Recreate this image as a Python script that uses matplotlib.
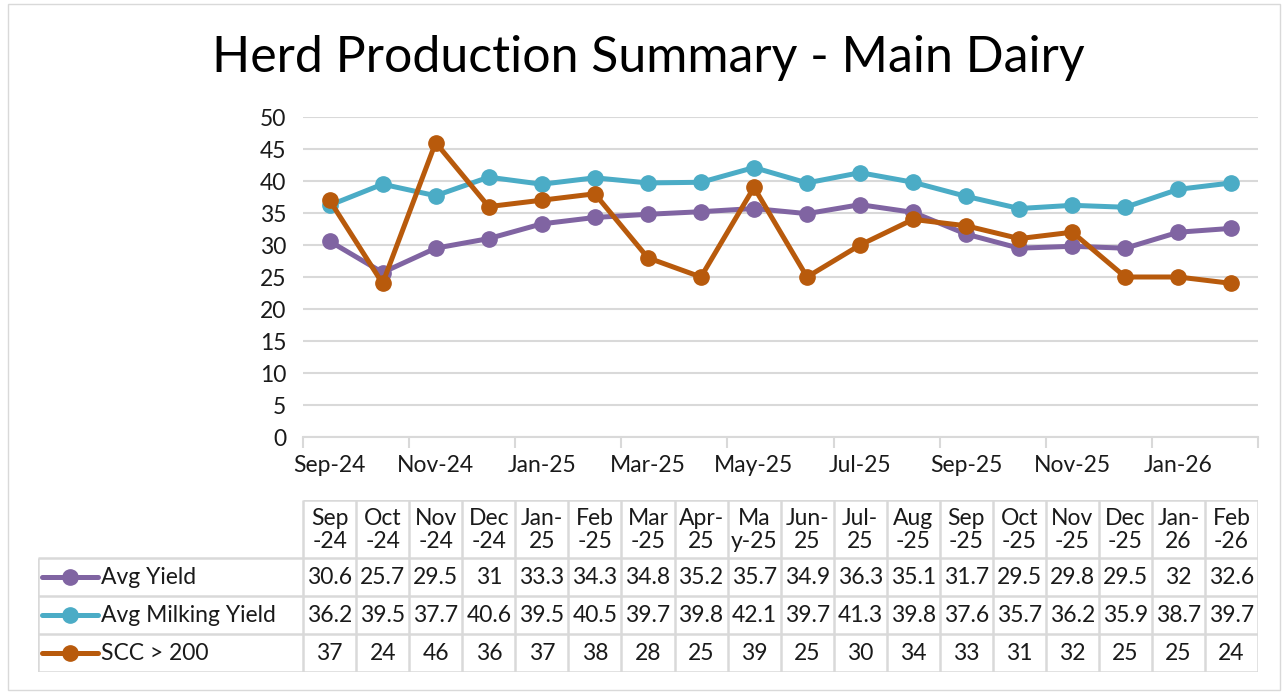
import matplotlib.pyplot as plt
from matplotlib.patches import Rectangle

plt.rcParams['font.family'] = ['Lato', 'DejaVu Sans']

months = ["Sep-24", "Oct-24", "Nov-24", "Dec-24", "Jan-25", "Feb-25", "Mar-25", "Apr-25", "May-25",
          "Jun-25", "Jul-25", "Aug-25", "Sep-25", "Oct-25", "Nov-25", "Dec-25", "Jan-26", "Feb-26"]
header = ["Sep\n-24", "Oct\n-24", "Nov\n-24", "Dec\n-24", "Jan-\n25", "Feb\n-25", "Mar\n-25", "Apr-\n25", "Ma\ny-25",
          "Jun-\n25", "Jul-\n25", "Aug\n-25", "Sep\n-25", "Oct\n-25", "Nov\n-25", "Dec\n-25", "Jan-\n26", "Feb\n-26"]
avg_yield = [30.6, 25.7, 29.5, 31, 33.3, 34.3, 34.8, 35.2, 35.7, 34.9, 36.3, 35.1, 31.7, 29.5, 29.8, 29.5, 32, 32.6]
avg_milking = [36.2, 39.5, 37.7, 40.6, 39.5, 40.5, 39.7, 39.8, 42.1, 39.7, 41.3, 39.8, 37.6, 35.7, 36.2, 35.9, 38.7, 39.7]
scc = [37, 24, 46, 36, 37, 38, 28, 25, 39, 25, 30, 34, 33, 31, 32, 25, 25, 24]

series = [("Avg Yield", avg_yield, "#8064A2"),
          ("Avg Milking Yield", avg_milking, "#4BACC6"),
          ("SCC > 200", scc, "#B85A0C")]

W, H = 1286, 698
fs = 16.5
txt_c = "#1a1a1a"
fig = plt.figure(figsize=(W / 100, H / 100), dpi=100)
fig.patches.append(Rectangle((8 / W, 8 / H), 1272 / W, 686 / H, transform=fig.transFigure,
                             fill=False, edgecolor="#D9D9D9", lw=1))

fig.text(648 / W, 1 - 58 / H, "Herd Production Summary - Main Dairy", ha="center", va="center",
         fontsize=36, color="black")

n = len(months)
x = [i + 0.5 for i in range(n)]
grid_c = "#D9D9D9"

ax = fig.add_axes([303 / W, 1 - 437 / H, 955 / W, 320 / H])
for name, vals, c in series:
    ax.plot(x, vals, color=c, lw=3.6, marker="o", ms=11, zorder=3)
ax.set_xlim(0, n)
ax.set_ylim(0, 50)
ax.set_yticks(range(0, 51, 5))
ax.yaxis.grid(True, color=grid_c, lw=1.5)
ax.set_axisbelow(True)
for s in ["top", "right", "left"]:
    ax.spines[s].set_visible(False)
ax.spines["bottom"].set_color(grid_c)
ax.spines["bottom"].set_linewidth(1.5)
ax.tick_params(axis="y", length=0, labelsize=fs, labelcolor=txt_c, pad=12)
ax.set_xticks(x[::2])
ax.set_xticklabels(months[::2])
ax.set_xticks(range(0, n + 1, 2), minor=True)
ax.tick_params(axis="x", which="major", length=0, labelsize=fs, labelcolor=txt_c, pad=13)
ax.tick_params(axis="x", which="minor", length=8, width=1.5, color=grid_c)

# data table
tab = fig.add_axes([38 / W, 1 - 672 / H, 1220 / W, 172 / H])
tab.set_xlim(-5, n)
tab.set_ylim(672, 500)
tab.axis("off")
rows = [500, 558, 596, 634, 672]
lc = dict(color=grid_c, lw=1.8, solid_capstyle="butt")
tab.plot([0, n], [rows[0], rows[0]], **lc)
for r in rows[1:]:
    tab.plot([-5, n], [r, r], **lc)
for i in range(n + 1):
    tab.plot([i, i], [500, 672], **lc)
tab.plot([-5, -5], [558, 672], **lc)

for i, h in enumerate(header):
    tab.text(i + 0.5, 530, h, ha="center", va="center", fontsize=fs, color=txt_c, linespacing=1.15)
for k, (name, vals, c) in enumerate(series):
    yc = (rows[k + 1] + rows[k + 2]) / 2
    tab.plot([-4.92, -3.87], [yc, yc], color=c, lw=3.6, solid_capstyle="round")
    tab.plot([-4.4], [yc], marker="o", ms=11, color=c)
    tab.text(-3.82, yc, name, ha="left", va="center", fontsize=fs, color=txt_c)
    for i, v in enumerate(vals):
        tab.text(i + 0.5, yc, f"{v:g}", ha="center", va="center", fontsize=fs, color=txt_c)

fig.savefig("out.png", dpi=100)
